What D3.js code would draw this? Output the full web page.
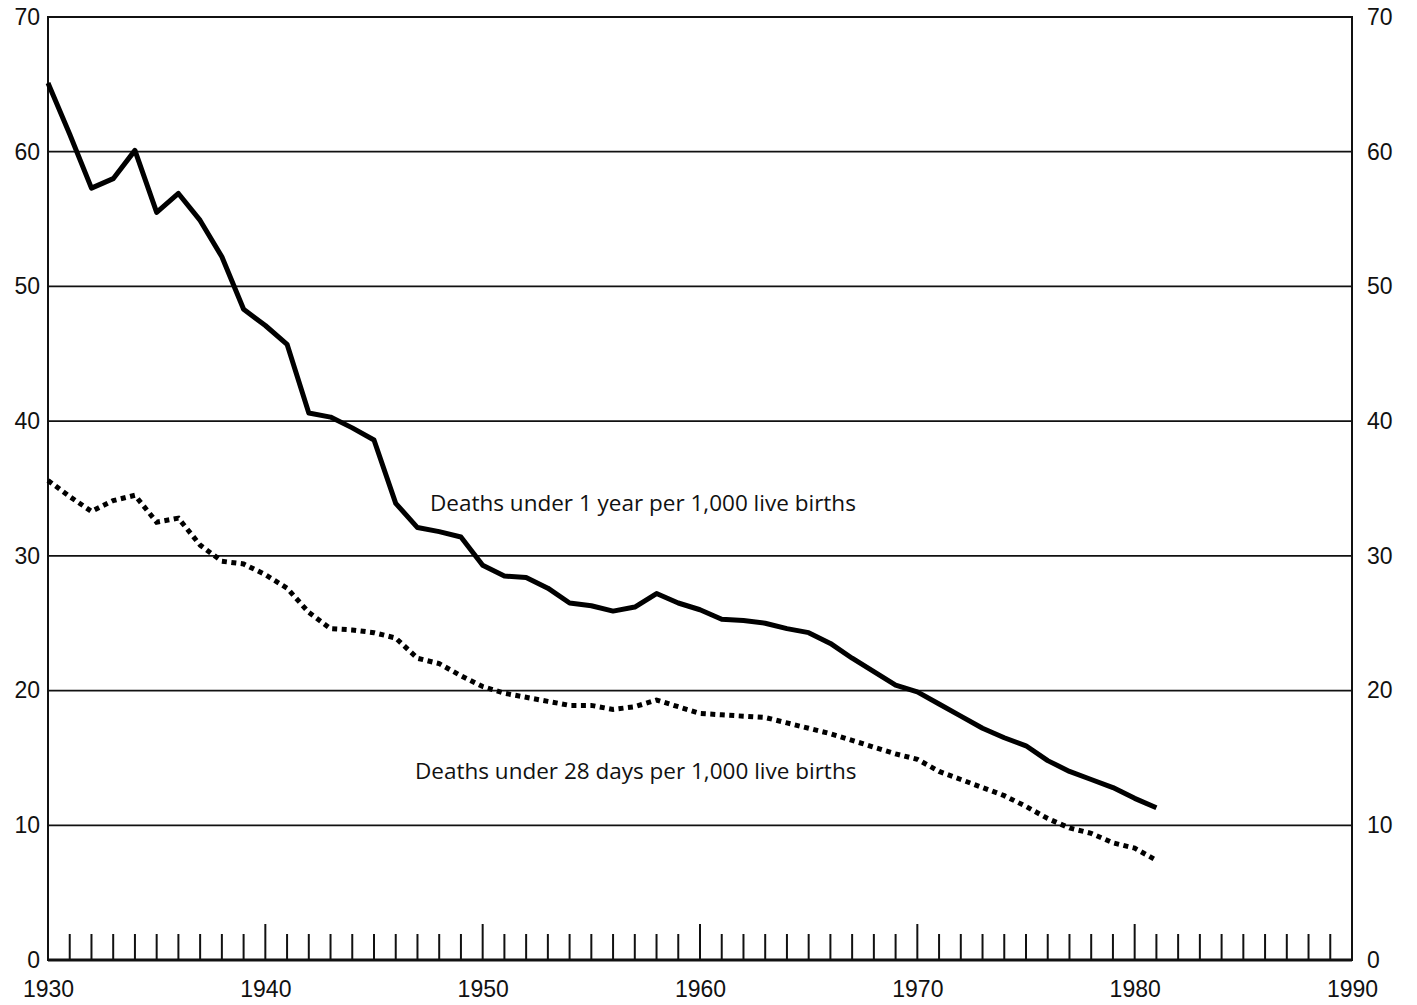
<!DOCTYPE html>
<html>
<head>
<meta charset="utf-8">
<script src="https://cdn.jsdelivr.net/npm/d3@7"></script>
<style>
	body { margin: 0; background: #fff; }
	svg { display: block; }
	.tick-label { font-family: "Liberation Sans", Arial, sans-serif; font-size: 23px; fill: #111; }
	.note { font-family: "Open Sans", "Noto Sans", sans-serif; font-size: 22.5px; fill: #111; }
</style>
</head>
<body>
<div id="chart"></div>
<script>
// years 1930..1981
var years = d3.range(1930, 1982);

// deaths under 1 year per 1,000 live births
var infant = [65.1, 61.3, 57.3, 58.0, 60.1, 55.5, 56.9, 54.9, 52.2, 48.3,
	47.1, 45.7, 40.6, 40.3, 39.5, 38.6, 33.9, 32.1, 31.8, 31.4,
	29.3, 28.5, 28.4, 27.6, 26.5, 26.3, 25.9, 26.2, 27.2, 26.5,
	26.0, 25.3, 25.2, 25.0, 24.6, 24.3, 23.5, 22.4, 21.4, 20.4,
	19.9, 19.0, 18.1, 17.2, 16.5, 15.9, 14.8, 14.0, 13.4, 12.8,
	12.0, 11.3];

// deaths under 28 days per 1,000 live births
var neonatal = [35.6, 34.4, 33.3, 34.1, 34.5, 32.5, 32.8, 30.8, 29.6, 29.4,
	28.6, 27.6, 25.8, 24.6, 24.5, 24.3, 23.9, 22.4, 22.0, 21.1,
	20.3, 19.8, 19.5, 19.2, 18.9, 18.9, 18.6, 18.8, 19.3, 18.8,
	18.3, 18.2, 18.1, 18.0, 17.6, 17.2, 16.8, 16.3, 15.8, 15.3,
	14.9, 14.0, 13.4, 12.8, 12.2, 11.4, 10.5, 9.8, 9.4, 8.7,
	8.3, 7.4];

var yTicks = [0, 10, 20, 30, 40, 50, 60, 70];
var decadeTicks = [1930, 1940, 1950, 1960, 1970, 1980, 1990];

var width = 1417, height = 1005;
var margin = { top: 17, right: 65, bottom: 45, left: 48 };

var svg = d3.select('#chart')
	.append('svg')
	.attr('width', width)
	.attr('height', height);

var x = d3.scaleLinear()
	.domain([1930, 1990])
	.range([margin.left, width - margin.right]);

var y = d3.scaleLinear()
	.domain([0, 70])
	.range([height - margin.bottom, margin.top]);

//horizontal rules
svg.append('g')
	.selectAll('line')
	.data(yTicks.filter(function (d) { return d > 0 && d < 70; }))
	.enter()
	.append('line')
	.attr('x1', x(1930))
	.attr('x2', x(1990))
	.attr('y1', function (d) { return y(d); })
	.attr('y2', function (d) { return y(d); })
	.attr('stroke', '#111')
	.attr('stroke-width', 1.8);

//frame
svg.append('rect')
	.attr('x', x(1930))
	.attr('y', y(70))
	.attr('width', x(1990) - x(1930))
	.attr('height', y(0) - y(70))
	.attr('fill', 'none')
	.attr('stroke', '#111')
	.attr('stroke-width', 2);

svg.append('line')
	.attr('x1', x(1930))
	.attr('x2', x(1990))
	.attr('y1', y(0))
	.attr('y2', y(0))
	.attr('stroke', '#111')
	.attr('stroke-width', 3);

//yearly ticks along the bottom, longer at decades
svg.append('g')
	.selectAll('line')
	.data(d3.range(1931, 1990))
	.enter()
	.append('line')
	.attr('x1', function (d) { return x(d); })
	.attr('x2', function (d) { return x(d); })
	.attr('y1', y(0))
	.attr('y2', function (d) { return y(0) - (d % 10 === 0 ? 36 : 26); })
	.attr('stroke', '#111')
	.attr('stroke-width', 2);

//left and right value labels
var yLeft = d3.axisLeft(y).tickValues(yTicks).tickSize(0).tickPadding(8);
var yRight = d3.axisRight(y).tickValues(yTicks).tickSize(0).tickPadding(15);

svg.append('g')
	.attr('transform', 'translate(' + x(1930) + ',0)')
	.call(yLeft)
	.call(function (g) { g.select('.domain').remove(); })
	.selectAll('text')
	.attr('class', 'tick-label')
	.attr('font-family', null)
	.attr('font-size', null);

svg.append('g')
	.attr('transform', 'translate(' + x(1990) + ',0)')
	.call(yRight)
	.call(function (g) { g.select('.domain').remove(); })
	.selectAll('text')
	.attr('class', 'tick-label')
	.attr('font-family', null)
	.attr('font-size', null);

//year labels
var xAxis = d3.axisBottom(x).tickValues(decadeTicks).tickFormat(d3.format('d')).tickSize(0).tickPadding(21);

svg.append('g')
	.attr('transform', 'translate(0,' + y(0) + ')')
	.call(xAxis)
	.call(function (g) { g.select('.domain').remove(); })
	.selectAll('text')
	.attr('class', 'tick-label')
	.attr('font-family', null)
	.attr('font-size', null);

var line = d3.line()
	.x(function (d) { return x(d[0]); })
	.y(function (d) { return y(d[1]); });

svg.append('path')
	.datum(d3.zip(years, neonatal))
	.attr('d', line)
	.attr('fill', 'none')
	.attr('stroke', '#000')
	.attr('stroke-width', 5)
	.attr('stroke-dasharray', '5,4.5');

svg.append('path')
	.datum(d3.zip(years, infant))
	.attr('d', line)
	.attr('fill', 'none')
	.attr('stroke', '#000')
	.attr('stroke-width', 5)
	.attr('stroke-linejoin', 'round');

//series notes
svg.append('text')
	.attr('class', 'note')
	.attr('x', 430)
	.attr('y', 511)
	.text('Deaths under 1 year per 1,000 live births');

svg.append('text')
	.attr('class', 'note')
	.attr('x', 415)
	.attr('y', 779)
	.text('Deaths under 28 days per 1,000 live births');
</script>
</body>
</html>
